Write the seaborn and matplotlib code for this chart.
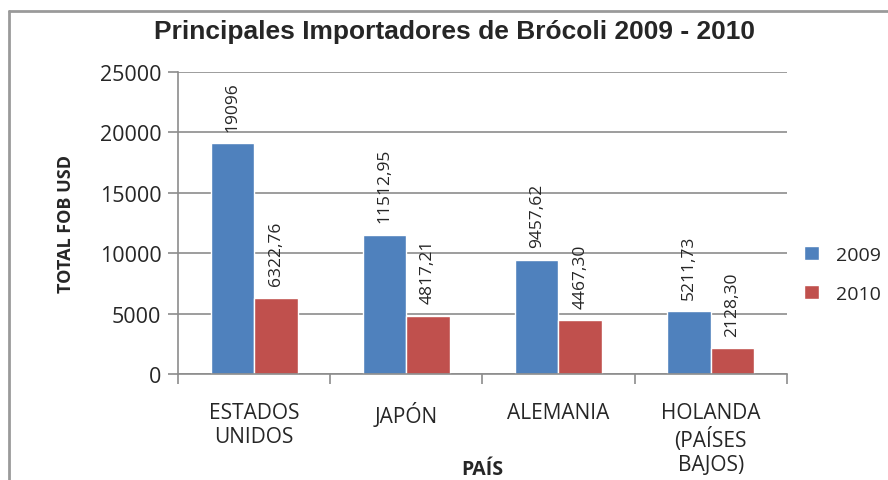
import seaborn as sns
import pandas as pd
import matplotlib.pyplot as plt
from matplotlib.lines import Line2D

paises = ['ESTADOS\nUNIDOS', 'JAPÓN', 'ALEMANIA', 'HOLANDA\n(PAÍSES\nBAJOS)']
valores_2009 = [19096, 11512.95, 9457.62, 5211.73]
valores_2010 = [6322.76, 4817.21, 4467.30, 2128.30]
etiquetas_2009 = ['19096', '11512,95', '9457,62', '5211,73']
etiquetas_2010 = ['6322,76', '4817,21', '4467,30', '2128,30']
anios = ['2009', '2010']

df = pd.DataFrame({
    'Pais': paises * 2,
    'Anio': [anios[0]] * 4 + [anios[1]] * 4,
    'FOB': valores_2009 + valores_2010,
})

sns.set_style('white')
plt.rcParams['font.family'] = ['Open Sans', 'DejaVu Sans']

fig = plt.figure(figsize=(8.88, 4.81), dpi=100)
ax = fig.add_axes([0.2005, 0.2204, 0.6855, 0.628])

sns.barplot(data=df, x='Pais', y='FOB', hue='Anio', palette=['#4F81BD', '#C0504D'],
            width=0.57, gap=0, saturation=1, ax=ax, legend=True)

ax.set_ylim(0, 25000)
ax.set_xlim(-0.5, 3.5)
ax.set_yticks(range(0, 25001, 5000))
ax.yaxis.grid(True, color='#8c8c8c', linewidth=1.2)
ax.set_axisbelow(True)
for s in ['top', 'right']:
    ax.spines[s].set_visible(False)
for s in ['left', 'bottom']:
    ax.spines[s].set_color('#8c8c8c')
    ax.spines[s].set_linewidth(1.2)

ax.tick_params(axis='y', labelsize=15.5, length=7, color='#8c8c8c', width=1.2, left=True, pad=5)
ax.set_xticks([0, 1, 2, 3])
ax.set_xticklabels(paises, fontsize=15, linespacing=1.2)
ax.tick_params(axis='x', length=0, pad=20)
ax.set_xticks([-0.5, 0.5, 1.5, 2.5, 3.5], minor=True)
ax.tick_params(axis='x', which='minor', length=7, color='#8c8c8c', width=1.2, bottom=True)
for lbl in ax.get_xticklabels():
    lbl.set_verticalalignment('top')

for cont, labs in zip(ax.containers, [etiquetas_2009, etiquetas_2010]):
    ax.bar_label(cont, labels=labs, rotation=90, padding=9, fontsize=12.5)

ax.set_ylabel('TOTAL FOB USD', fontsize=13, fontweight='bold')
ax.yaxis.set_label_coords(-0.17, 0.5)
ax.set_xlabel('PAÍS', fontsize=14, fontweight='bold')
ax.xaxis.set_label_coords(0.5, -0.28)

fig.suptitle('Principales Importadores de Brócoli 2009 - 2010', x=0.512, y=0.958,
             fontsize=19, fontweight='bold', family=['Liberation Sans', 'DejaVu Sans'])

leg = ax.legend(title=None, frameon=False, fontsize=14, loc='center left',
                bbox_to_anchor=(1.0, 0.33), handlelength=0.75, handleheight=0.75,
                labelspacing=1.1, handletextpad=0.9)

fig.add_artist(Line2D([0.0105, 0.0105], [0, 0.975], color='#9a9a9a', linewidth=2,
                      transform=fig.transFigure))
fig.add_artist(Line2D([0.0105, 1.0], [0.975, 0.975], color='#9a9a9a', linewidth=2,
                      transform=fig.transFigure))

fig.savefig('out.png', dpi=100)
